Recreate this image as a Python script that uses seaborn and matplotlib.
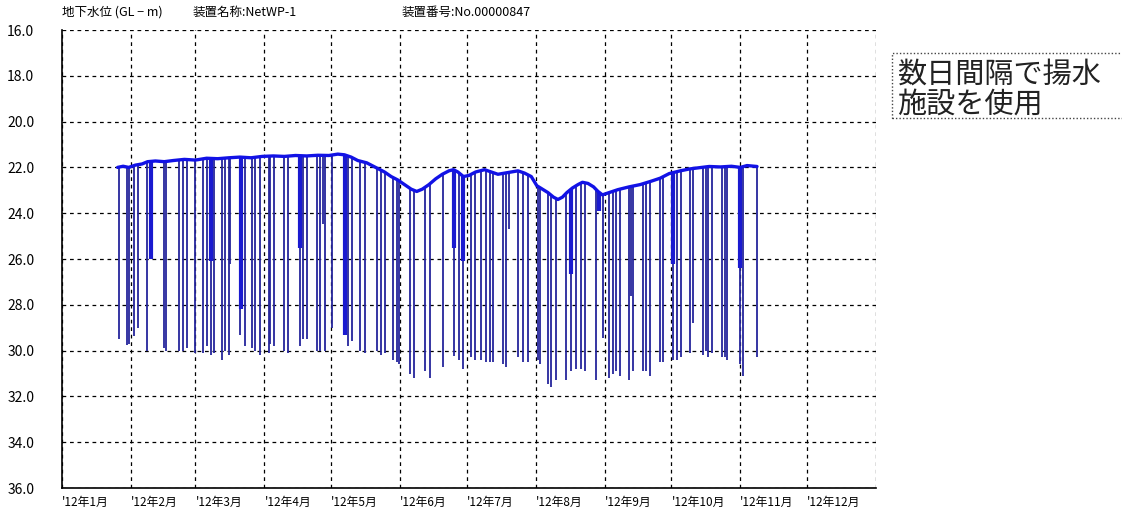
import numpy as np
import pandas as pd
import matplotlib
matplotlib.use("Agg")
import matplotlib.pyplot as plt
from matplotlib.patches import Rectangle
import seaborn as sns

# ---------------- data (day of year 2012, depth GL-m) ----------------
baseline_days = [25.0, 27.5, 30.0, 33.0, 36.0, 38.5, 42.0, 46.0, 50.0, 55.0, 60.0, 65.0,
                 70.0, 75.0, 80.0, 85.0, 90.0, 95.0, 100.0, 105.0, 110.0, 115.0, 120.0,
                 124.0, 127.0, 130.0, 133.0, 137.0, 141.0, 145.0, 148.0, 151.0, 154.0,
                 157.0, 159.5, 162.0, 165.0, 168.0, 171.0, 174.0, 176.0, 178.0, 180.5,
                 183.0, 186.0, 190.0, 193.0, 196.0, 199.0, 202.0, 205.0, 208.0, 211.0,
                 213.5, 216.0, 218.5, 221.0, 223.0, 225.0, 227.0, 229.5, 232.0, 234.0,
                 236.5, 239.0, 241.0, 243.0, 246.0, 250.0, 255.0, 260.0, 265.0, 269.0,
                 273.0, 278.0, 282.0, 286.0, 291.0, 296.0, 301.0, 305.0, 308.0, 312.5]
baseline_depth = [22.0, 21.95, 22.0, 21.9, 21.85, 21.75, 21.72, 21.75, 21.7, 21.65, 21.68, 21.6,
                  21.62, 21.58, 21.55, 21.58, 21.52, 21.5, 21.52, 21.48, 21.5, 21.47, 21.48,
                  21.42, 21.45, 21.55, 21.7, 21.8, 22.0, 22.2, 22.4, 22.55, 22.75,
                  22.95, 23.05, 22.95, 22.75, 22.5, 22.3, 22.15, 22.1, 22.2, 22.4,
                  22.35, 22.2, 22.1, 22.2, 22.3, 22.25, 22.2, 22.15, 22.25, 22.4,
                  22.8, 22.95, 23.1, 23.3, 23.4, 23.3, 23.1, 22.9, 22.75, 22.65,
                  22.7, 22.85, 23.05, 23.2, 23.1, 22.97, 22.85, 22.75, 22.6, 22.47,
                  22.27, 22.15, 22.07, 22.02, 21.96, 21.98, 21.95, 22.0, 21.92, 21.96]

spike_days = [25.5, 29.2, 30.3, 32.2, 34.2, 38.2, 45.7, 46.8, 52.5, 54.3, 56.2, 59.7,
              63.3, 65.2, 67.1, 68.2, 71.9, 73.4, 74.9, 75.7, 80.2, 82.4, 85.4, 86.9,
              89.2, 92.9, 93.7, 95.2, 100.0, 101.8, 107.0, 108.5, 110.0, 114.5, 116.0,
              117.5, 118.3, 121.3, 128.5, 130.3, 134.0, 136.2, 141.5, 143.4, 145.2,
              149.0, 150.5, 151.5, 156.5, 158.4, 163.2, 165.5, 171.3, 176.3, 178.4,
              180.3, 184.0, 185.6, 188.3, 190.8, 192.3, 193.8, 198.3, 199.5, 200.8,
              205.0, 207.3, 209.5, 214.0, 214.8, 218.5, 220.0, 222.3, 226.8, 229.0,
              231.2, 233.5, 235.0, 240.2, 243.1, 246.1, 247.9, 249.1, 250.9, 255.1,
              255.7, 256.9, 261.4, 262.6, 264.4, 268.9, 270.1, 274.6, 276.4, 278.2,
              282.4, 283.6, 288.1, 289.6, 290.6, 292.1, 296.6, 298.1, 298.9, 304.9,
              306.1, 312.4]
spike_depth = [29.5, 29.75, 29.7, 29.35, 29.0, 30.0, 29.9, 30.0, 30.0, 30.0, 29.9, 30.1,
               30.1, 29.8, 30.2, 30.1, 30.4, 30.0, 30.2, 26.2, 29.3, 29.8, 29.9, 30.0,
               30.2, 30.1, 29.7, 29.8, 30.0, 30.1, 29.8, 29.5, 29.5, 30.0, 30.0,
               24.45, 30.0, 29.0, 29.8, 29.6, 30.0, 30.1, 30.0, 30.2, 30.1,
               30.4, 30.5, 30.6, 31.0, 31.2, 30.9, 31.2, 30.7, 30.25, 30.4,
               30.8, 30.3, 30.4, 30.4, 30.5, 30.5, 30.5, 30.6, 30.7, 24.7,
               30.3, 30.5, 30.5, 30.4, 30.6, 31.45, 31.6, 31.3, 31.3, 30.9,
               30.8, 30.8, 30.9, 31.3, 29.45, 31.2, 31.0, 30.9, 31.1, 31.3,
               27.6, 30.9, 30.9, 30.9, 31.1, 30.5, 30.5, 30.4, 30.4, 30.3,
               30.1, 28.8, 30.2, 30.0, 30.3, 30.1, 30.3, 30.3, 30.4, 30.6,
               31.1, 30.3]

# dense pumping clusters (thick bands)
cluster_days = [40.2, 67.1, 80.5, 107.0, 127.2, 176.3, 180.3, 229.0, 241.5, 274.6, 304.9]
cluster_depth = [26.0, 26.1, 28.2, 25.5, 29.3, 25.5, 26.1, 26.65, 23.9, 26.2, 26.4]

month_starts = [0, 31, 60, 91, 121, 152, 182, 213, 244, 274, 305, 335, 366]
month_labels = ["'12年1月", "'12年2月", "'12年3月", "'12年4月", "'12年5月", "'12年6月",
                "'12年7月", "'12年8月", "'12年9月", "'12年10月", "'12年11月", "'12年12月", ""]
y_ticks = [16, 18, 20, 22, 24, 26, 28, 30, 32, 34, 36]

header_texts = ["地下水位 (GL − m)", "装置名称:NetWP-1", "装置番号:No.00000847"]
note_text = "数日間隔で揚水\n施設を使用"

assert len(spike_days) == len(spike_depth)
assert len(baseline_days) == len(baseline_depth)

# ---------------- figure ----------------
sns.set_style("white")
plt.rcParams['font.family'] = ['Noto Sans CJK JP', 'DejaVu Sans']

W, H = 1122, 511
fig = plt.figure(figsize=(W / 100, H / 100), dpi=100)
left, right, top, bottom = 62, 876, 30, 488
ax = fig.add_axes([left / W, 1 - bottom / H, (right - left) / W, (bottom - top) / H])

spike_top = np.interp(spike_days, baseline_days, baseline_depth)
ax.vlines(spike_days, spike_top, spike_depth, color="#25259c", linewidth=1.3, zorder=3)
cluster_top = np.interp(cluster_days, baseline_days, baseline_depth)
ax.vlines(cluster_days, cluster_top, cluster_depth, color="#1a1ad0", linewidth=3.0, zorder=3)

base_df = pd.DataFrame({"day": baseline_days, "depth": baseline_depth})
sns.lineplot(data=base_df, x="day", y="depth", ax=ax, color="#1212e6",
             linewidth=2.4, zorder=4, legend=False)

ax.set_xlim(0, 366)
ax.set_ylim(36, 16)
ax.set_xticks(month_starts)
ax.set_xticklabels(month_labels, ha="left", fontsize=8.5)
ax.set_yticks(y_ticks)
ax.set_yticklabels([f"{v:.1f}" for v in y_ticks], fontsize=10)
ax.set_xlabel("")
ax.set_ylabel("")

ax.grid(True, color="black", linestyle=(0, (3, 3)), linewidth=0.9, zorder=1)
ax.set_axisbelow(True)
for s in ["top", "right"]:
    ax.spines[s].set_visible(False)
for s in ["left", "bottom"]:
    ax.spines[s].set_visible(True)
    ax.spines[s].set_color("black")
    ax.spines[s].set_linewidth(1.2)
ax.tick_params(axis="both", direction="inout", length=8, width=1, color="black",
               labelcolor="black")
ax.tick_params(axis="y", pad=16)
ax.tick_params(axis="x", pad=2)
for lab in ax.get_xticklabels():
    lab.set_horizontalalignment("left")

# header row
hx = [62, 193, 402]
for x, t in zip(hx, header_texts):
    fig.text(x / W, 1 - 12 / H, t, fontsize=9, va="center", ha="left", color="black")

# note box
fig.text(897 / W, 1 - 60 / H, note_text, fontsize=21, va="top", ha="left",
         linespacing=0.98, color="#222222")
fig.patches.append(Rectangle((892 / W, 1 - 118 / H), 300 / W, 65 / H,
                             transform=fig.transFigure, fill=False,
                             linestyle=(0, (1, 1.5)), linewidth=1, edgecolor="#444444",
                             clip_on=False))

fig.savefig("out.png", dpi=100)
